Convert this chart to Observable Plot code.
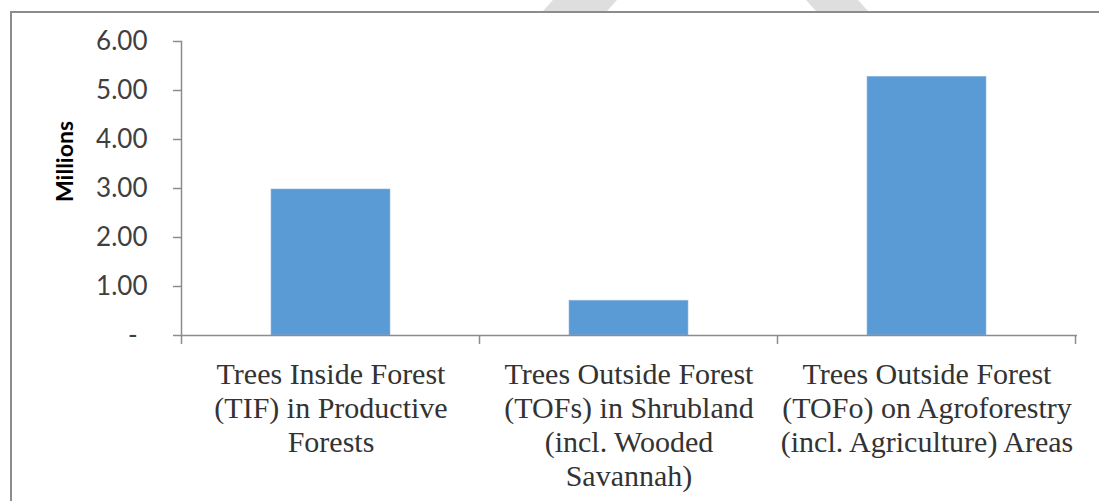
<!DOCTYPE html>
<html>
<head>
<meta charset="utf-8">
<script src="https://cdn.jsdelivr.net/npm/d3@7"></script>
<script src="https://cdn.jsdelivr.net/npm/@observablehq/plot@0.6"></script>
<style>
  html, body { margin: 0; padding: 0; background: #fff; overflow: hidden; }
  #wrap { position: relative; width: 1099px; height: 501px; overflow: hidden; }
  #border { position: absolute; left: 10px; top: 11px; width: 1200px; height: 600px;
            border-left: 2px solid #8c8c8c; border-top: 2px solid #8c8c8c; box-sizing: border-box; }
  .stripe { position: absolute; top: 0; height: 11px; background: #dedede; }
  #chart { position: absolute; left: 0; top: 0; }
</style>
</head>
<body>
<div id="wrap">
  <div class="stripe" style="left:548px; width:64px; transform: skewX(-42deg);"></div>
  <div class="stripe" style="left:811px; width:52px; transform: skewX(42deg);"></div>
  <div id="border"></div>
  <div id="chart"></div>
</div>
<script>
// Tree counts (millions) by land category
const categories = ["TIF", "TOFs", "TOFo"];
const categoryLabels = [
  ["Trees Inside Forest", "(TIF) in Productive", "Forests"],
  ["Trees Outside Forest", "(TOFs) in Shrubland", "(incl. Wooded", "Savannah)"],
  ["Trees Outside Forest", "(TOFo) on Agroforestry", "(incl. Agriculture) Areas"]
];
const values = [2.98, 0.71, 5.28];
const yTicks = [0, 1, 2, 3, 4, 5, 6];
const yTickLabels = ["-", "1.00", "2.00", "3.00", "4.00", "5.00", "6.00"];

const data = categories.map((c, i) => ({category: c, value: values[i]}));
const labelOf = new Map(categories.map((c, i) => [c, categoryLabels[i].join("\n")]));
const yLabelOf = new Map(yTicks.map((t, i) => [t, yTickLabels[i]]));

const axisGray = "#8c8c8c";

// Category boundary ticks below the baseline
function boundaryTicks(index, scales, values, dims) {
  const x = scales.x;
  const step = x.step();
  const half = (step - x.bandwidth()) / 2;
  const edges = categories.map(c => x(c) - half).concat([x(categories[categories.length - 1]) + x.bandwidth() + half]);
  const g = d3.create("svg:g").attr("stroke", axisGray).attr("stroke-width", 1.5);
  const y0 = dims.height - dims.marginBottom;
  for (const e of edges) {
    g.append("line").attr("x1", e).attr("x2", e).attr("y1", y0).attr("y2", y0 + 9);
  }
  return g.node();
}

const chart = Plot.plot({
  width: 1099,
  height: 501,
  marginLeft: 181,
  marginRight: 22,
  marginTop: 41,
  marginBottom: 166,
  style: {background: "transparent", overflow: "visible"},
  x: {domain: categories, paddingInner: 0.6, paddingOuter: 0.3, align: 0.5},
  y: {domain: [0, 6]},
  marks: [
    Plot.barY(data, {x: "category", y: "value", fill: "#5b9bd5", stroke: "#8fbbe6", strokeWidth: 0.6}),
    Plot.ruleY([0], {stroke: axisGray, strokeWidth: 1.5}),
    Plot.frame({anchor: "left", stroke: axisGray, strokeWidth: 1.5}),
    Plot.axisY({
      ticks: yTicks,
      tickFormat: t => yLabelOf.get(t) + (t === 0 ? "\u00a0\u2009" : ""),
      tickSize: 8,
      tickPadding: 26,
      stroke: axisGray,
      strokeWidth: 1.5,
      fill: "#3f3f3f",
      fontSize: 26,
      fontFamily: "Lato, sans-serif",
      label: null
    }),
    Plot.axisX({
      tickSize: 0,
      tickPadding: 24,
      tickFormat: c => labelOf.get(c),
      lineHeight: 1.14,
      fill: "#333",
      fontSize: 30,
      fontFamily: "'Liberation Serif', serif",
      label: null
    }),
    boundaryTicks,
    Plot.text(["Millions"], {
      frameAnchor: "left",
      textAnchor: "middle",
      rotate: -90,
      dx: -116,
      dy: -27,
      fontSize: 23,
      fontWeight: "bold",
      fontFamily: "Lato, sans-serif",
      fill: "#000"
    })
  ]
});
document.getElementById("chart").appendChild(chart);
</script>
</body>
</html>
